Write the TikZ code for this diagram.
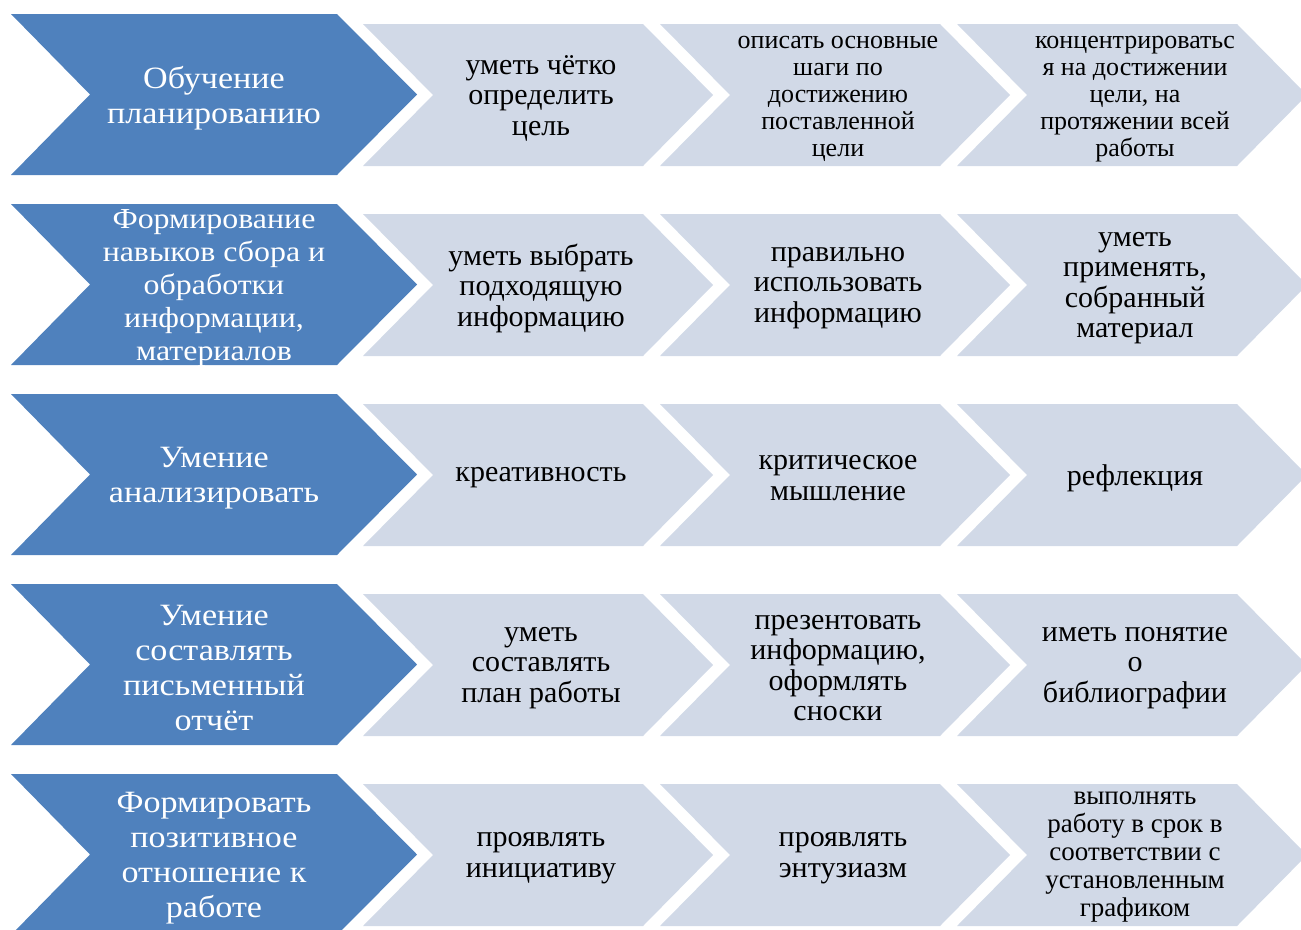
\documentclass[tikz,border=0pt]{standalone}
\usepackage{fontspec}
\setmainfont{Liberation Serif}
\newfontfamily\headfont[FakeStretch=1.1]{Liberation Serif}
\definecolor{stageblue}{HTML}{4F81BD}
\definecolor{steplight}{HTML}{D1D9E7}
\tikzset{
  headtext/.style={text=white, align=center, font=\headfont\fontsize{31}{35}\selectfont},
  itemtext/.style={text=black, align=center, font=\fontsize{30}{30.5}\selectfont},
  smalltext/.style={itemtext, font=\fontsize{26}{27}\selectfont},
}

\begin{document}
\begin{tikzpicture}[x=1pt,y=-1pt]
    \useasboundingbox (0,0) rectangle (1301,929);

    % Chevrons of the five rows
    \foreach \dy in {0,190,380,570,760} {
        \fill[stageblue] (11,14+\dy) -- (337,14+\dy) -- (417,94.5+\dy)
            -- (337,175+\dy) -- (11,175+\dy) -- (90,94.5+\dy) -- cycle;
        \foreach \L in {363,660,957} {
            \fill[steplight] (\L,24+\dy) -- ({\L+280},24+\dy) -- ({\L+350},95+\dy)
                -- ({\L+280},166+\dy) -- (\L,166+\dy) -- ({\L+70},95+\dy) -- cycle;
        }
    }

    % Row 1
    \node[headtext] (plan) at (214,98) {Обучение\\планированию};
    \node[itemtext] (plan-a) at (541,98) {уметь чётко\\определить\\цель};
    \node[smalltext] (plan-b) at (838,99) {описать основные\\шаги по\\достижению\\поставленной\\цели};
    \node[smalltext] (plan-c) at (1135,99) {концентрироватьс\\я на достижении\\цели, на\\протяжении всей\\работы};

    % Row 2
    \node[headtext, font=\headfont\fontsize{29}{33}\selectfont] (info) at (214,288) {Формирование\\навыков сбора и\\обработки\\информации,\\материалов};
    \node[itemtext] (info-a) at (541,288) {уметь выбрать\\подходящую\\информацию};
    \node[itemtext] (info-b) at (838,288) {правильно\\использовать\\информацию};
    \node[itemtext] (info-c) at (1135,288) {уметь\\применять,\\собранный\\материал};

    % Row 3
    \node[headtext] (anal) at (214,478) {Умение\\анализировать};
    \node[itemtext] (anal-a) at (541,478) {креативность};
    \node[itemtext] (anal-b) at (838,478) {критическое\\мышление};
    \node[itemtext] (anal-c) at (1135,478) {рефлекция};

    % Row 4
    \node[headtext] (report) at (214,668) {Умение\\составлять\\письменный\\отчёт};
    \node[itemtext] (report-a) at (541,668) {уметь\\составлять\\план работы};
    \node[itemtext] (report-b) at (838,668) {презентовать\\информацию,\\оформлять\\сноски};
    \node[itemtext] (report-c) at (1135,668) {иметь понятие\\о\\библиографии};

    % Row 5
    \node[headtext] (attit) at (214,858) {Формировать\\позитивное\\отношение к\\работе};
    \node[itemtext] (attit-a) at (541,858) {проявлять\\инициативу};
    \node[itemtext] (attit-b) at (843,858) {проявлять\\энтузиазм};
    \node[smalltext, font=\fontsize{27}{28}\selectfont] (attit-c) at (1135,857) {выполнять\\работу в срок в\\соответствии с\\установленным\\графиком};
\end{tikzpicture}
\end{document}
